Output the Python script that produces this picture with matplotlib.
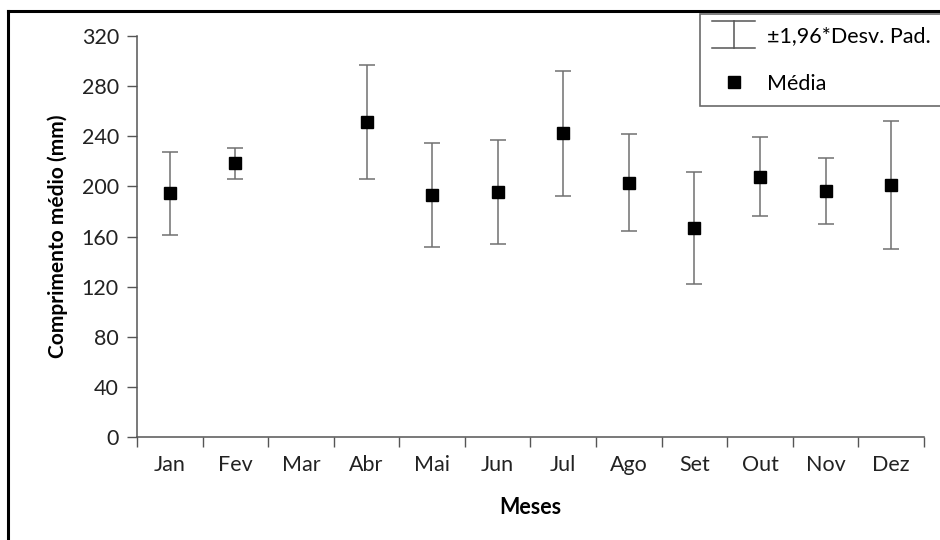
import matplotlib.pyplot as plt
from matplotlib.lines import Line2D
from matplotlib.legend_handler import HandlerBase
import numpy as np

plt.rcParams['font.family'] = ['Lato', 'DejaVu Sans']

meses = ['Jan', 'Fev', 'Mar', 'Abr', 'Mai', 'Jun', 'Jul', 'Ago', 'Set', 'Out', 'Nov', 'Dez']
media = [194.5, 218.3, np.nan, 251.5, 193.0, 195.3, 242.4, 203.0, 166.8, 207.7, 196.3, 201.1]
erro = [33.2, 12.4, np.nan, 45.3, 41.6, 41.6, 49.8, 38.6, 44.3, 31.6, 26.0, 51.0]
yticks = [0, 40, 80, 120, 160, 200, 240, 280, 320]


class HandlerI(HandlerBase):
    # simbolo de barra de erro em forma de "I"
    def create_artists(self, legend, orig_handle, xd, yd, w, h, fontsize, trans):
        kw = dict(color='#555555', lw=1.1, transform=trans)
        top = yd + h * 1.4
        bot = yd - h * 0.4
        l1 = Line2D([xd, xd + w], [top, top], **kw)
        l2 = Line2D([xd, xd + w], [bot, bot], **kw)
        l3 = Line2D([xd + w / 2, xd + w / 2], [bot, top], **kw)
        return [l1, l2, l3]


fig = plt.figure(figsize=(9.4, 5.4), dpi=100)
ax = fig.add_axes([0.1457, 0.1907, 0.8373, 0.7426])

x = np.arange(len(meses))
ax.errorbar(x, media, yerr=erro, fmt='none', ecolor='#707070', elinewidth=1.1,
            capsize=5.5, capthick=1.1, zorder=2)
ax.plot(x, media, 's', color='black', markersize=9.3, zorder=3)

ax.set_xlim(-0.5, len(meses) - 0.5)
ax.set_ylim(0, 320)
ax.set_yticks(yticks)
ax.set_xticks(x)
ax.set_xticklabels(meses)
ax.set_xticks(np.arange(-0.5, len(meses), 1), minor=True)
ax.tick_params(axis='x', which='major', length=0, pad=13, labelsize=15.5, colors='#222222')
ax.tick_params(axis='x', which='minor', length=7, width=1, color='#555555', direction='out')
ax.tick_params(axis='y', length=7, width=1, color='#555555', labelsize=15.5, pad=6,
               labelcolor='#222222')

for s in ['top', 'right']:
    ax.spines[s].set_visible(False)
for s in ['left', 'bottom']:
    ax.spines[s].set_color('#555555')
    ax.spines[s].set_linewidth(1.1)

ax.set_xlabel('Meses', fontsize=15.5, fontweight='bold', labelpad=16)
ax.set_ylabel('Comprimento médio (mm)', fontsize=15, fontweight='bold', labelpad=10)

h_err = Line2D([], [])
h_med = Line2D([], [], marker='s', color='black', linestyle='none', markersize=9.3)
leg = fig.legend([h_err, h_med], ['±1,96*Desv. Pad.', 'Média'],
                 handler_map={h_err: HandlerI()},
                 loc='upper right', bbox_to_anchor=(1.003, 0.974),
                 fontsize=15.5, frameon=True, fancybox=False, borderaxespad=0,
                 handlelength=2.0, handletextpad=0.55, labelspacing=1.3,
                 borderpad=0.55)
leg.get_frame().set_edgecolor('#444444')
leg.get_frame().set_linewidth(1.2)

# moldura da figura
fig.add_artist(Line2D([8 / 940, 8 / 940], [0, 1 - 11 / 540], transform=fig.transFigure,
                      color='black', lw=2.2))
fig.add_artist(Line2D([8 / 940, 1], [1 - 11 / 540, 1 - 11 / 540], transform=fig.transFigure,
                      color='black', lw=2.2))

fig.savefig('out.png', dpi=100)
